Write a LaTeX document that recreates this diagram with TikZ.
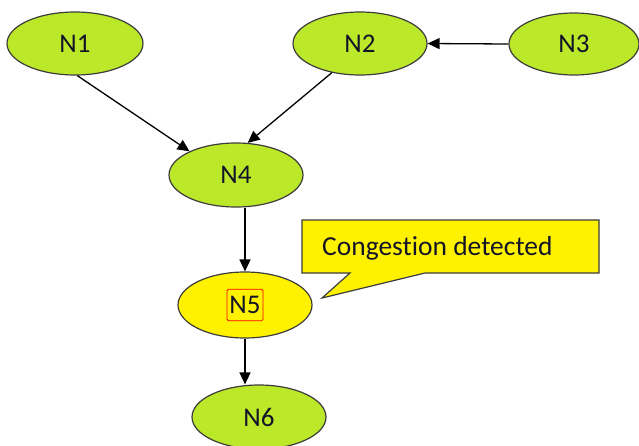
\documentclass[tikz,border=0pt]{standalone}
\usepackage{fontspec}
\setmainfont{Carlito}[Ligatures={NoCommon}]
\usetikzlibrary{shapes.geometric,arrows.meta}
\definecolor{nodegreen}{RGB}{188,232,42}
\definecolor{calloutyellow}{RGB}{255,242,0}
\definecolor{edgegray}{RGB}{60,60,60}
\definecolor{labeltext}{RGB}{20,20,40}
\begin{document}
\begin{tikzpicture}[x=1pt,y=-1pt,
  gnode/.style={ellipse, draw=edgegray, line width=1.2pt, fill=nodegreen,
    minimum width=134pt, minimum height=63pt, inner sep=0pt,
    text=labeltext, font=\fontsize{27}{32}\selectfont},
  ynode/.style={gnode, fill=calloutyellow},
  conn/.style={draw=black, line width=1.3pt, -{Triangle[length=12pt,width=11pt]}},
  callout/.style={fill=calloutyellow, draw=edgegray, line width=1.2pt, line join=miter}]
\useasboundingbox (0,0) rectangle (639,445);

\node[gnode, minimum width=136pt] (n1) at (75,43.5) {N1};
\node[gnode] (n2) at (360,43.5) {N2};
\node[gnode, minimum width=130pt, minimum height=62pt] (n3) at (574,44) {N3};
\node[gnode, minimum height=64pt] (n4) at (236,175) {N4};
\node[ynode, minimum height=66pt] (n5) at (245,305) {};
\node[draw=red, line width=0.8pt, rounded corners=1.5pt, inner xsep=2.5pt, inner ysep=7pt,
  text=labeltext, font=\fontsize{27}{32}\selectfont] (n5lbl) at (n5.center) {N5};
\node[gnode, minimum height=64pt] (n6) at (259,417) {N6};

\draw[conn] (n1.-86) -- (n4.153);
\draw[conn] (n2.-134) -- (n4.70);
\draw[conn] (n3.west) -- (n2.east);
\draw[conn] (n5.north |- n4.south) -- (n5.north);
\draw[conn] (n5.south) -- (n5.south |- n6.north);

\draw[callout] (302,220) -- (599,220) -- (599,273) -- (425,273) -- (322,298)
  -- (350,273) -- (302,273) -- cycle;
\node[anchor=base west, inner sep=0pt, text=labeltext,
  font=\fontsize{27.5}{33}\selectfont] (callouttext) at (322,255) {Congestion detected};
\end{tikzpicture}
\end{document}
